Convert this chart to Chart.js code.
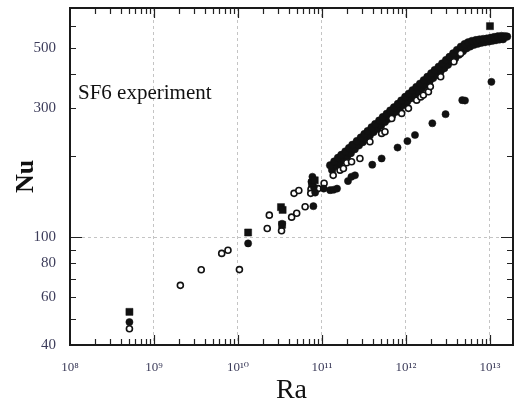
<!DOCTYPE html>
<html><head><meta charset="utf-8">
<script src="https://cdn.jsdelivr.net/npm/chart.js@4.4.0/dist/chart.umd.min.js"></script>
<style>html,body{margin:0;padding:0;background:#fff;}#wrap{width:514px;height:409px;}</style>
</head><body><div id="wrap"><canvas id="c" width="514" height="409"></canvas></div>
<script>
const xTickValues = [1e8, 1e9, 1e10, 1e11, 1e12, 1e13];
const xTickLabels = ['10⁸', '10⁹', '10¹⁰', '10¹¹', '10¹²', '10¹³'];
const xMinorFactors = [2, 3, 4, 5, 6, 7, 8, 9];
const yTickValues = [40, 50, 60, 70, 80, 90, 100, 200, 300, 400, 500, 600];
const yTickLabels = ['40', '', '60', '', '80', '', '100', '', '300', '', '500', ''];

const bandARa = [1.25e11,1.4e11,1.55e11,1.7e11,1.9e11,2.1e11,2.3e11,2.6e11,2.9e11,3.2e11,3.5e11,3.9e11,4.3e11,4.8e11,5.3e11,5.9e11,6.5e11,7.2e11,8e11,8.8e11,9.8e11,1.08e12,1.2e12,1.33e12,1.47e12,1.63e12,1.8e12,2e12,2.2e12,2.45e12,2.7e12,3e12,3.3e12,3.65e12,4.05e12,4.5e12,5e12,5.5e12,6.1e12,6.8e12,7.5e12,8.3e12,9.2e12,1.02e13,1.12e13,1.24e13,1.37e13,1.5e13,1.6e13];
const bandANu = [184,190,196,201,207,213,219,226,233,240,246,254,261,269,277,285,293,301,310,319,329,338,348,358,368,379,390,402,413,425,437,450,462,476,490,504,515,523,529,533,536,538,540,543,547,550,552,551,549];
const bandBRa = [1.32e11,1.47e11,1.62e11,1.8e11,2e11,2.2e11,2.45e11,2.75e11,3.05e11,3.35e11,3.7e11,4.1e11,4.55e11,5.05e11,5.6e11,6.2e11,6.85e11,7.6e11,8.4e11,9.3e11,1.03e12,1.14e12,1.26e12,1.4e12,1.55e12,1.71e12,1.9e12,2.1e12,2.32e12,2.58e12,2.85e12,3.15e12,3.48e12,3.85e12,4.27e12,4.75e12,5.25e12,5.8e12,6.45e12,7.15e12,7.9e12,8.75e12,9.7e12,1.07e13,1.18e13,1.3e13,1.43e13];
const bandBNu = [177,183,188,193,199,204,211,218,224,230,237,244,251,258,266,273,281,290,298,307,316,325,334,344,354,364,375,386,396,409,420,432,445,457,471,485,497,505,512,517,521,524,527,530,533,536,537];
const openRa = [5.1e8,2.06e9,3.65e9,6.4e9,7.6e9,1.04e10,2.23e10,2.36e10,3.3e10,4.35e10,5.0e10,4.65e10,5.3e10,6.3e10,7.4e10,7.35e10,9.0e10,1.06e11,1.36e11,1.64e11,1.8e11,1.97e11,2.25e11,2.83e11,3.72e11,5.13e11,5.62e11,6.76e11,8.89e11,1.07e12,1.34e12,1.5e12,1.61e12,1.85e12,1.95e12,2.59e12,3.72e12,4.47e12];
const openNu = [45.9,66.4,75.8,87.1,89.5,75.9,107.6,120.5,105.5,118.5,122.5,145,148.5,129.4,150,145,151,158,169,176.6,179,188,189.7,195,224.8,241.3,244.7,274,286,298.5,320,329,334,343.6,359,390.5,443.6,476];
const fillRa = [5.1e8,1.32e10,3.35e10,7.9e10,7.7e10,7.5e10,8.0e10,8.3e10,1.05e11,1.25e11,1.37e11,1.51e11,2.04e11,2.24e11,2.47e11,3.97e11,5.13e11,7.94e11,1.04e12,1.28e12,2.06e12,2.96e12,4.68e12,5.04e12,1.04e13];
const fillNu = [48.6,94.8,112,130,167,160,153,146,151,149,149.5,151,161,167,169,185,195,214,226,238,263,284,320,319,374];
const sqRa = [5.1e8,1.32e10,3.25e10,3.4e10,3.35e10,7.6e10,8.2e10,1.0e13];
const sqNu = [53,104,129,126,111,158,162,600];

const pts = (xs, ys) => xs.map((x, i) => ({x: x, y: ys[i]}));
const SERIF = '"Liberation Serif", "DejaVu Serif", serif';
const INK = '#111';

const framePlugin = {
  id: 'frame',
  afterDraw(chart) {
    const {ctx, chartArea: a, scales} = chart;
    const xs = scales.x, ys = scales.y;
    ctx.save();
    ctx.strokeStyle = '#222';
    ctx.lineWidth = 1.2;
    ctx.beginPath();
    xTickValues.forEach(dec => {
      const px = Math.round(xs.getPixelForValue(dec)) + 0.5;
      if (dec > xs.min && dec < xs.max) {
        ctx.moveTo(px, a.bottom); ctx.lineTo(px, a.bottom - 10);
        ctx.moveTo(px, a.top); ctx.lineTo(px, a.top + 10);
      }
      xMinorFactors.forEach(k => {
        const v = k * dec;
        if (v > xs.min && v < xs.max) {
          const p = Math.round(xs.getPixelForValue(v)) + 0.5;
          ctx.moveTo(p, a.bottom); ctx.lineTo(p, a.bottom - 6);
          ctx.moveTo(p, a.top); ctx.lineTo(p, a.top + 6);
        }
      });
    });
    yTickValues.forEach(v => {
      if (v <= ys.min || v >= ys.max) return;
      const py = Math.round(ys.getPixelForValue(v)) + 0.5;
      const len = (v === 100) ? 12 : 6;
      ctx.moveTo(a.left, py); ctx.lineTo(a.left + len, py);
      ctx.moveTo(a.right, py); ctx.lineTo(a.right - len, py);
    });
    ctx.stroke();
    ctx.lineWidth = 2;
    ctx.strokeStyle = '#1a1a1a';
    ctx.strokeRect(a.left, a.top, a.right - a.left, a.bottom - a.top);
    ctx.fillStyle = INK;
    ctx.font = '21px ' + SERIF;
    ctx.textAlign = 'left';
    ctx.textBaseline = 'alphabetic';
    ctx.fillText('SF6 experiment', 78, 99);
    ctx.restore();
  }
};

new Chart(document.getElementById('c'), {
  type: 'scatter',
  data: {
    datasets: [
      {label: 'squares', data: pts(sqRa, sqNu), pointStyle: 'rect', pointRadius: 5,
       backgroundColor: INK, borderColor: INK, borderWidth: 0.5, order: 1},
      {label: 'filled', data: pts(fillRa, fillNu), pointStyle: 'circle', pointRadius: 3.6,
       backgroundColor: INK, borderColor: INK, borderWidth: 0.5, order: 2},
      {label: 'open', data: pts(openRa, openNu), pointStyle: 'circle', pointRadius: 3,
       backgroundColor: '#fff', borderColor: INK, borderWidth: 1.6, order: 3},
      {label: 'bandA', data: pts(bandARa, bandANu), pointStyle: 'circle', pointRadius: 3.8,
       backgroundColor: INK, borderColor: INK, borderWidth: 0.5, order: 4},
      {label: 'bandB', data: pts(bandBRa, bandBNu), pointStyle: 'circle', pointRadius: 3.8,
       backgroundColor: INK, borderColor: INK, borderWidth: 0.5, order: 5}
    ]
  },
  options: {
    responsive: false,
    animation: false,
    devicePixelRatio: 1,
    layout: {autoPadding: false, padding: {left: 0, right: 1, top: 8, bottom: 0}},
    plugins: {legend: {display: false}, tooltip: {enabled: false}},
    scales: {
      x: {
        type: 'logarithmic', position: 'bottom', min: 1e8, max: 1.88e13,
        afterBuildTicks: s => { s.ticks = xTickValues.map(v => ({value: v})); },
        afterFit: s => { s.height = 64; s.paddingLeft = 0; s.paddingRight = 0; s.paddingTop = 0; s.paddingBottom = 0; },
        ticks: {
          autoSkip: false, maxRotation: 0, padding: 15,
          font: {family: SERIF, size: 13}, color: '#3c3c5a',
          callback: (v, i) => xTickLabels[i]
        },
        grid: {drawTicks: false, lineWidth: 1,
          color: c => (c.tick && c.tick.value > 1e8) ? '#c4c4c4' : 'rgba(0,0,0,0)'},
        border: {display: false, dash: [3, 3]},
        title: {display: true, text: 'Ra', font: {family: SERIF, size: 28}, color: INK, padding: 2}
      },
      y: {
        type: 'logarithmic', position: 'left', min: 40, max: 700,
        afterBuildTicks: s => { s.ticks = yTickValues.map(v => ({value: v})); },
        afterFit: s => { s.width = 70; s.paddingLeft = 0; s.paddingRight = 0; s.paddingTop = 0; s.paddingBottom = 0; },
        ticks: {
          autoSkip: false, padding: 14,
          font: {family: SERIF, size: 15}, color: '#3c3c5a',
          callback: (v, i) => yTickLabels[i]
        },
        grid: {drawTicks: false, lineWidth: 1,
          color: c => (c.tick && c.tick.value === 100) ? '#c4c4c4' : 'rgba(0,0,0,0)'},
        border: {display: false, dash: [3, 3]},
        title: {display: true, text: 'Nu', font: {family: SERIF, size: 26, weight: 'bold'}, color: INK, padding: 11}
      }
    }
  },
  plugins: [framePlugin]
});
</script>
</body></html>
